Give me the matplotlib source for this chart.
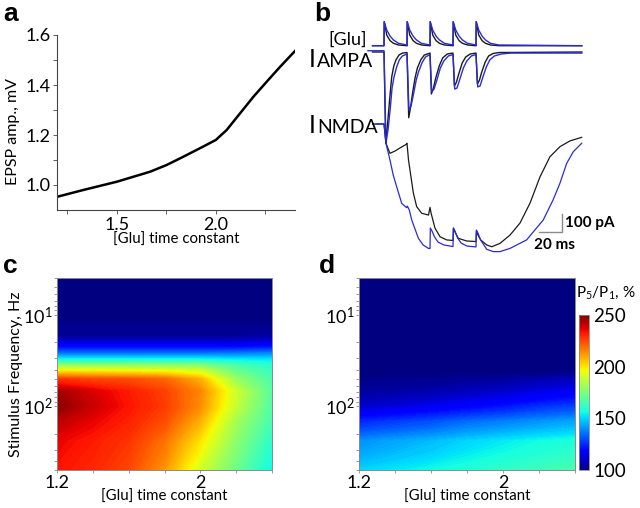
import matplotlib
matplotlib.use('Agg')
import matplotlib.pyplot as plt
import numpy as np
from matplotlib.ticker import FixedLocator, NullFormatter, LogLocator
from matplotlib.colors import Normalize
from matplotlib.cm import ScalarMappable

plt.rcParams['font.family'] = ['Lato', 'DejaVu Sans']
plt.rcParams['mathtext.fontset'] = 'custom'
plt.rcParams['mathtext.rm'] = 'Lato'
plt.rcParams['mathtext.it'] = 'Lato:italic'
plt.rcParams['mathtext.bf'] = 'Lato:bold'

# ---- panel a: EPSP amplitude vs [Glu] time constant
tau_a = [1.2, 1.331, 1.50, 1.668, 1.752, 1.836, 1.92, 2.0, 2.055, 2.123, 2.19, 2.257, 2.325, 2.40]
epsp_a = [0.953, 0.98, 1.013, 1.053, 1.08, 1.113, 1.147, 1.18, 1.22, 1.287, 1.353, 1.413, 1.473, 1.536]

# ---- panel b: traces (time in ms, currents in pA)
pulse_times = [0, 20, 40, 60, 80]
glu_rel_t = [0, 0.2, 2.4, 5.3, 8.2, 12.6, 19.8]
glu_black_rel = [0, 1, 0.44, 0.21, 0.10, 0.03, 0.0]
glu_blue_rel = [0, 1, 0.65, 0.40, 0.24, 0.10, 0.03]

ampa_black_t = [-10, 0, 1.5, 3, 5, 6.7, 8.5, 10.4, 13, 16, 20, 21.5, 23, 25, 27, 29, 32, 35, 40,
                41.2, 43, 45, 48, 51, 55, 60, 61.2, 63, 65, 68, 71, 75, 80,
                81.2, 83, 85, 88, 91, 95, 100, 172]
ampa_black = [0, 0, -506, -406, -256, -139, -78, -44, -17, -6, -3, -365, -311, -222, -144, -89, -44, -17, -6,
              -233, -200, -144, -78, -33, -11, -6, -189, -167, -122, -61, -28, -11, -6,
              -178, -156, -111, -56, -22, -8, -3, 0]
ampa_blue_t = [-14, 0, 1.7, 3.5, 5.5, 7, 8.7, 11, 13.3, 16, 20, 21.7, 23.5, 25.5, 28, 30, 33, 36, 40,
               41.5, 43.5, 46, 49, 52, 56, 60, 61.5, 63.5, 66, 69, 72, 76, 80,
               81.5, 83.5, 86, 89, 92, 96, 102, 110, 172]
ampa_blue = [7, 7, -506, -433, -311, -200, -139, -83, -44, -22, -11, -322, -300, -239, -156, -111, -61, -28, -14,
             -221, -206, -156, -89, -50, -22, -14, -206, -200, -150, -89, -50, -22, -14,
             -194, -189, -139, -83, -44, -22, -11, -6, -6]

nmda_black_t = [-10, 0, 1.7, 5.2, 9.6, 13.9, 19.1, 20, 21.3, 22.6, 25.5, 28.4, 32.8, 38.7,
                40, 40.9, 44.3, 48.7, 54.5, 60, 60.4, 61.7, 64.6, 71.9, 80, 80.4, 81.7, 84.1,
                89.3, 93.7, 100.9, 109.6, 118.3, 127, 135.7, 144.3, 153, 161.7, 171.9]
nmda_black = [0, 0, -107, -163, -150, -133, -114, -107, -200, -256, -383, -459, -496, -506,
              -463, -494, -578, -626, -644, -647, -579, -600, -635, -650, -653, -593, -617, -644,
              -672, -682, -663, -617, -550, -439, -293, -182, -126, -94, -74]
nmda_blue_t = [-7, 0, 1.7, 5.2, 8, 11, 15.4, 19.7, 20.3, 22, 24.1, 29.9, 34, 38.6, 40,
               40.3, 41.7, 44, 47, 52, 60, 60.3, 61.7, 64, 67, 72, 80, 80.3, 81.7, 84,
               89.3, 95, 100.9, 109.6, 124, 138.5, 147, 153, 158.9, 164.6, 171.9]
nmda_blue = [0, 0, -107, -200, -283, -348, -441, -465, -456, -478, -533, -635, -672, -691, -692,
             -578, -594, -628, -656, -672, -681, -578, -594, -633, -661, -678, -683, -589, -606, -644,
             -696, -709, -709, -691, -644, -533, -422, -329, -218, -154, -107]

# ---- panels c, d: P5/P1 (%) over [Glu] time constant x stimulus frequency
tau_grid = [1.2, 1.4, 1.6, 1.8, 2.0, 2.2, 2.4]
freq_grid = [4, 11.8, 17.2, 22.1, 26.3, 30.7, 35.6, 41.5, 50.6, 68.5, 100, 146, 240, 500]
ratio_c = [
    [100, 100, 100, 100, 100, 100, 100],
    [101, 101, 101, 101, 101, 101, 101],
    [104, 104, 104, 104, 104, 104, 105],
    [118, 118, 118, 118, 118, 118, 120],
    [135, 135, 135, 135, 135, 136, 138],
    [155, 155, 155, 155, 155, 153, 152],
    [178, 178, 178, 177, 176, 166, 160],
    [200, 199, 198, 197, 192, 172, 163],
    [228, 225, 224, 220, 208, 180, 166],
    [245, 238, 232, 226, 215, 190, 168],
    [248, 240, 233, 227, 214, 188, 167],
    [242, 236, 231, 224, 208, 182, 165],
    [236, 232, 228, 218, 200, 178, 160],
    [233, 230, 225, 212, 190, 172, 155],
]
ratio_d = [
    [100, 100, 100, 100, 100, 100, 100],
    [100, 100, 100, 100, 100, 100, 100],
    [100, 100, 100, 100, 100, 100, 100],
    [100, 100, 100, 100, 100, 100, 100],
    [100, 100, 100, 100, 100, 100, 100],
    [100, 100, 100, 100, 100, 100, 100],
    [100, 100, 100, 100, 100, 100, 100],
    [100, 100, 100, 100, 100, 100, 101],
    [101, 102, 102, 103, 104, 106, 108],
    [104, 105, 106, 108, 110, 113, 116],
    [110, 112, 115, 118, 121, 125, 128],
    [124, 127, 130, 134, 137, 140, 143],
    [140, 143, 146, 150, 153, 156, 158],
    [150, 153, 156, 159, 162, 164, 166],
]

W, H = 640, 508
fig = plt.figure(figsize=(6.4, 5.08), dpi=100)


def box(x0, y0, x1, y1):
    # pixel box (top-left origin) -> figure fraction rect
    return [x0 / W, 1 - y1 / H, (x1 - x0) / W, (y1 - y0) / H]


def ftext(x, y, s, **kw):
    fig.text(x / W, 1 - y / H, s, **kw)


fs_lab = 10.8
fs_tick = 13

# ---------------- panel a
ax = fig.add_axes(box(57.3, 35, 295, 210))
ax.plot(tau_a, epsp_a, color='black', lw=1.8)
ax.set_xlim(1.2, 2.4)
ax.set_ylim(0.9, 1.6)
ax.set_xticks([1.5, 2.0])
ax.set_xticks([1.25, 1.75, 2.25], minor=True)
ax.set_yticks([1.0, 1.2, 1.4, 1.6])
ax.set_yticks([1.1, 1.3, 1.5], minor=True)
ax.set_xticklabels(['1.5', '2.0'])
ax.set_yticklabels(['1.0', '1.2', '1.4', '1.6'])
for s in ['top', 'right']:
    ax.spines[s].set_visible(False)
for s in ['left', 'bottom']:
    ax.spines[s].set_linewidth(0.8)
    ax.spines[s].set_color('#444444')
ax.tick_params(which='both', direction='out', length=3, width=0.6, color='#444444',
               labelsize=fs_tick, pad=2)
ax.set_xlabel('[Glu] time constant', fontsize=fs_lab, labelpad=0)
ax.set_ylabel('EPSP amp., mV', fontsize=11.5)
ax.yaxis.set_label_coords(-0.155, 0.45)

# ---------------- panel b
px_per_ms = 1.15
pa_per_px = 100 / 18.0
t0_px, base_px = 384, 45.7
axb = fig.add_axes(box(300, 10, 640, 260))
axb.set_xlim((300 - t0_px) / px_per_ms, (640 - t0_px) / px_per_ms)
axb.set_ylim(-(260 - base_px) * pa_per_px, (base_px - 10) * pa_per_px)
axb.axis('off')

glu_scale = 24 * pa_per_px
off_ampa = -(52 - base_px) * pa_per_px
off_nmda = -(124 - base_px) * pa_per_px

black_c = '#1a1a1a'
blue_c = '#2b2bd6'
for rel, col in [(glu_black_rel, black_c), (glu_blue_rel, blue_c)]:
    tt = [-10]
    vv = [0]
    for p in pulse_times:
        tt += [p + r for r in glu_rel_t]
        vv += list(rel)
    tt.append(172)
    vv.append(0)
    axb.plot(tt, np.array(vv) * glu_scale, color=col, lw=1.0)

axb.plot(ampa_black_t, np.array(ampa_black) + off_ampa, color=black_c, lw=1.0)
axb.plot(ampa_blue_t, np.array(ampa_blue) + off_ampa, color=blue_c, lw=1.0)
axb.plot(nmda_black_t, np.array(nmda_black) + off_nmda, color=black_c, lw=0.9)
axb.plot(nmda_blue_t, np.array(nmda_blue) + off_nmda, color=blue_c, lw=0.9)

# scale bar: 20 ms x 100 pA
sb_t, sb_v = 154.5, -1037
axb.plot([sb_t - 20, sb_t, sb_t], [sb_v, sb_v, sb_v + 100], color='#8a8a8a', lw=1.0)
axb.text(sb_t + 2.5, sb_v + 50, '100 pA', fontsize=11, fontweight='bold', va='center', ha='left')
axb.text(sb_t - 24, sb_v - 70, '20 ms', fontsize=11, fontweight='bold', va='center', ha='left')

ftext(367, 45, '[Glu]', fontsize=13, ha='right', va='baseline')
ftext(309, 67, 'I', fontsize=18, ha='left', va='baseline')
ftext(317, 67, 'AMPA', fontsize=14, ha='left', va='baseline')
ftext(309, 133, 'I', fontsize=18, ha='left', va='baseline')
ftext(317, 133, 'NMDA', fontsize=14, ha='left', va='baseline')

# ---------------- panels c, d
norm = Normalize(vmin=100, vmax=250)
levels = np.linspace(100, 250, 151)


def heat(rect, data):
    axh = fig.add_axes(rect)
    axh.contourf(tau_grid, freq_grid, np.array(data), levels=levels, cmap='jet',
                 norm=norm, extend='both')
    axh.set_yscale('log')
    axh.set_ylim(500, 4)
    axh.set_xlim(1.2, 2.4)
    axh.set_xticks([1.2, 1.4, 1.6, 1.8, 2.0, 2.2, 2.4])
    axh.set_xticklabels(['1.2', '', '', '', '2', '', ''])
    axh.yaxis.set_major_locator(FixedLocator([10, 100]))
    axh.yaxis.set_minor_locator(LogLocator(base=10, subs=np.arange(2, 10)))
    axh.yaxis.set_minor_formatter(NullFormatter())
    for s in axh.spines.values():
        s.set_linewidth(0.7)
        s.set_color('#8a8a8a')
    axh.tick_params(which='both', direction='out', length=2.5, width=0.6, color='#8a8a8a',
                    labelsize=fs_tick, pad=1)
    axh.set_xlabel('[Glu] time constant', fontsize=fs_lab, labelpad=-1)
    return axh

axc = heat(box(57.3, 278.3, 271.7, 470), ratio_c)
axc.set_ylabel('Stimulus Frequency, Hz', fontsize=11.5, labelpad=0)
axd = heat(box(359.3, 278.3, 575, 470), ratio_d)

cax = fig.add_axes(box(579.3, 315, 589.3, 470))
cb = fig.colorbar(ScalarMappable(norm=norm, cmap='jet'), cax=cax, ticks=[100, 150, 200, 250])
cb.outline.set_linewidth(0.6)
cb.outline.set_edgecolor('#8a8a8a')
cax.tick_params(length=0, labelsize=13.5, pad=3)
ftext(576, 297, r'P$_\mathregular{5}$/P$_\mathregular{1}$, %', fontsize=11, ha='left', va='baseline')

# panel letters
for lab, x, y in [('a', 3, 21), ('b', 314, 21), ('c', 3, 273), ('d', 319, 273)]:
    fig.text(x / W, 1 - y / H, lab, fontsize=19, fontweight='bold',
             family='Liberation Sans', ha='left', va='baseline')

fig.savefig('out.png', dpi=100)
